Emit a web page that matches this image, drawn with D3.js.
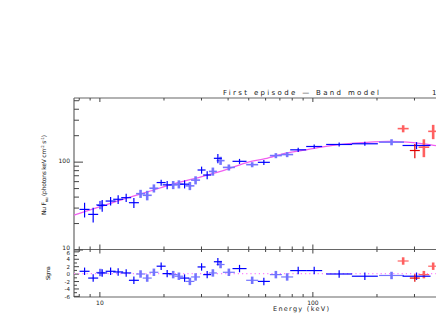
<!DOCTYPE html>
<html>
<head>
<meta charset="utf-8">
<title>First episode - Band model</title>
<script src="https://d3js.org/d3.v7.min.js"></script>
<style>
  body { margin: 0; background: #fff; }
  svg { display: block; font-family: "DejaVu Sans", sans-serif; }
</style>
</head>
<body>
<svg id="plot" width="436" height="327"></svg>
<script>
// spectral points: energy bin (keV), nuFnu, error, residual (sigma)
const energy = [8.52, 9.35, 10.1, 10.31, 11.29, 12.25, 13.36, 14.52, 15.61, 16.77, 18.03, 19.5, 20.81, 22.21, 23.62, 25.12, 26.6, 28.29, 30.19, 32.07, 34.11, 36.0, 37.07, 40.55, 45.5, 52.17, 59.19, 67.4, 76.14, 85.8, 102, 133.6, 176.4, 235.4, 308.4, 266.9, 302.8, 333.9, 369.2];
const eLo = [8.07, 8.86, 9.65, 9.77, 10.7, 11.61, 12.66, 13.76, 14.87, 15.97, 17.17, 18.57, 19.82, 21.15, 22.5, 23.93, 25.34, 26.95, 28.91, 30.71, 32.67, 34.48, 35.5, 38.0, 42.18, 48.89, 55.47, 63.17, 71.36, 78.69, 93.55, 116.1, 153.3, 205.7, 265.1, 251.5, 286.9, 315.2, 349.8];
const eHi = [8.99, 9.87, 10.6, 10.88, 11.92, 12.93, 14.1, 15.33, 16.39, 17.61, 18.93, 20.47, 21.85, 23.32, 24.8, 26.37, 27.93, 29.7, 31.52, 33.49, 35.62, 37.59, 38.71, 43.27, 49.08, 55.66, 63.16, 71.92, 81.24, 93.55, 111.2, 153.7, 203.0, 269.4, 358.8, 283.2, 319.6, 353.8, 389.7];
const flux = [28.6, 25.1, 32.2, 31.8, 35.6, 37.3, 38.9, 34.1, 43.2, 41.4, 49.8, 57.8, 54.4, 54.4, 55.4, 55.4, 53.0, 61.6, 80.3, 70.4, 77.4, 109.1, 102.7, 86.0, 100.8, 92.4, 98.2, 117.2, 120.4, 136.3, 148.7, 156.8, 159.7, 166.7, 152.7, 237.6, 133.8, 146.0, 221.2];
const fluxErr = [5.45, 4.85, 3.5, 4.88, 3.96, 4.25, 4.12, 4.51, 4.57, 5.15, 5.27, 4.59, 5.76, 5.76, 5.87, 5.87, 5.61, 6.52, 7.44, 7.45, 8.2, 13.0, 10.9, 6.83, 6.67, 6.11, 6.5, 7.76, 7.97, 7.2, 7.9, 8.3, 8.45, 13.2, 14.1, 22, 24.8, 33.6, 41];
const resid = [0.63, -1.2, 0.3, 0.18, 0.63, 0.45, 0.18, -1.8, -0.1, -1.2, 0.36, 2.0, 0, -0.27, -0.7, -1.2, -2.1, -0.9, 1.8, -0.27, 0.18, 3.2, 2.45, 0.36, 1.36, -1.8, -2.1, -0.27, -0.9, 0.82, 0.82, -0.1, -0.7, -0.5, -0.7, 3.4, -1.2, -0.27, 2.0];
// d = dark blue, l = light blue, dr = dark red, lr = light red
const detector = ['d','d','l','d','d','d','d','d','l','l','l','d','d','l','l','d','l','l','d','d','l','d','l','l','d','l','d','l','l','d','d','d','d','l','d','lr','dr','lr','lr'];

// Band model curve
const modelE = [7.6, 10, 13, 17, 22, 30, 40, 50, 60, 75, 90, 110, 140, 180, 230, 280, 330, 400, 450];
const modelF = [24.6, 30.5, 37.5, 45.5, 55.5, 67, 82, 99, 108, 125, 134, 146, 158, 166, 170, 167, 160, 150, 146];

// axis ticks
const energyMajor = [10, 100];
const energyMinor = [8, 9, 20, 30, 40, 50, 60, 70, 80, 90, 200, 300, 400];
const fluxMajor = [10, 100];
const fluxMinor = [20, 30, 40, 50, 60, 70, 80, 90, 200, 300, 400, 500];
const sigmaMajor = [-6, -4, -2, 0, 2, 4, 6];
const sigmaMinor = [-5, -3, -1, 1, 3, 5];

const colors = { d: '#0000ff', l: '#7474ff', dr: '#e00000', lr: '#ff6060' };
const widths = { d: 1.2, l: 2.6, dr: 1.2, lr: 2.6 };

const svg = d3.select('#plot');

const x = d3.scaleLog().domain([7.6, 440]).range([74, 449.4]);
const yTop = d3.scaleLog().domain([10, 530]).range([249.5, 98]);
const ySig = d3.scaleLinear().domain([-6.3, 6.5]).range([297, 249.5]);

// draws one set of ticks with d3.axis
function ticks(axisFn, scale, values, size, tx, ty, labelled) {
    const g = svg.append('g')
        .attr('transform', `translate(${tx},${ty})`)
        .call(axisFn(scale).tickValues(values).tickSizeInner(size).tickSizeOuter(0)
            .tickPadding(4).tickFormat(labelled ? (d => String(d)) : () => ''));
    g.select('.domain').remove();
    g.attr('font-size', 6).attr('font-family', null);
    g.selectAll('line').attr('stroke', '#444').attr('stroke-width', 1);
    g.selectAll('text').attr('fill', '#222');
    return g;
}

// frames
const frame = [
    [74, 98, 74, 297],
    [74, 98, 436, 98],
    [74, 249.5, 436, 249.5],
    [74, 297, 436, 297]
];
svg.selectAll('line.frame').data(frame).enter().append('line')
    .attr('class', 'frame')
    .attr('x1', d => d[0]).attr('y1', d => d[1])
    .attr('x2', d => d[2]).attr('y2', d => d[3])
    .attr('stroke', '#666').attr('stroke-width', 1.2);

// top panel ticks
ticks(d3.axisLeft, yTop, fluxMajor, -9, 74, 0, true)
    .selectAll('text').attr('dy', d => d === 10 ? '-0.05em' : '0.2em');
ticks(d3.axisLeft, yTop, fluxMinor, -5, 74, 0, false);
ticks(d3.axisTop, x, energyMajor, -4, 0, 98, false);
ticks(d3.axisTop, x, energyMinor, -2.5, 0, 98, false);
ticks(d3.axisBottom, x, energyMajor, -5, 0, 249.5, false);
ticks(d3.axisBottom, x, energyMinor, -3, 0, 249.5, false);

// residual panel ticks
ticks(d3.axisLeft, ySig, sigmaMajor, -5, 74, 0, true)
    .selectAll('text').attr('font-size', 5.5).attr('dy', d => d === 6 ? '0.5em' : '0.4em');
ticks(d3.axisLeft, ySig, sigmaMinor, -3, 74, 0, false);
ticks(d3.axisTop, x, energyMajor, -4, 0, 249.5, false);
ticks(d3.axisTop, x, energyMinor, -2.5, 0, 249.5, false);
ticks(d3.axisBottom, x, energyMajor, -5, 0, 297, true);
ticks(d3.axisBottom, x, energyMinor, -3, 0, 297, false);

// model curve
const model = modelE.map((e, i) => [e, modelF[i]]);
const modelLine = d3.line()
    .x(d => x(d[0]))
    .y(d => yTop(d[1]))
    .curve(d3.curveMonotoneX);
svg.append('path')
    .datum(model)
    .attr('fill', 'none')
    .attr('stroke', '#f060f0')
    .attr('stroke-width', 1.3)
    .attr('d', modelLine);

// zero line in residuals
svg.append('line')
    .attr('x1', 74).attr('x2', 436)
    .attr('y1', ySig(0)).attr('y2', ySig(0))
    .attr('stroke', '#ff80ff').attr('stroke-width', 1.2)
    .attr('stroke-dasharray', '1.2,3');

// data points, light sets first
const points = energy.map((e, i) => ({
    e: e, lo: eLo[i], hi: eHi[i], f: flux[i], err: fluxErr[i], r: resid[i], det: detector[i]
}));
const order = { l: 0, lr: 0, d: 1, dr: 1 };
points.sort((a, b) => order[a.det] - order[b.det]);

const pts = svg.append('g');
points.forEach(p => {
    const c = colors[p.det], w = widths[p.det];
    const light = p.det === 'l' || p.det === 'lr';
    pts.append('line')
        .attr('x1', x(p.lo)).attr('x2', x(p.hi))
        .attr('y1', yTop(p.f)).attr('y2', yTop(p.f))
        .attr('stroke', c).attr('stroke-width', light ? 1.6 : 1.2);
    pts.append('line')
        .attr('x1', x(p.e)).attr('x2', x(p.e))
        .attr('y1', yTop(Math.max(p.f - p.err, 10))).attr('y2', yTop(p.f + p.err))
        .attr('stroke', c).attr('stroke-width', w);
    // residual cross: error is 1 sigma by definition
    pts.append('line')
        .attr('x1', x(p.lo)).attr('x2', x(p.hi))
        .attr('y1', ySig(p.r)).attr('y2', ySig(p.r))
        .attr('stroke', c).attr('stroke-width', 1.2);
    pts.append('line')
        .attr('x1', x(p.e)).attr('x2', x(p.e))
        .attr('y1', ySig(p.r - 1)).attr('y2', ySig(p.r + 1))
        .attr('stroke', c).attr('stroke-width', w);
});

// texts
svg.append('text')
    .attr('x', 223).attr('y', 95)
    .attr('font-size', 7).attr('fill', '#222')
    .attr('textLength', 156).attr('lengthAdjust', 'spacing')
    .text('First episode \u2014 Band model');

svg.append('text')
    .attr('x', 432).attr('y', 95)
    .attr('font-size', 7).attr('fill', '#222')
    .text('1');

const yl = svg.append('text')
    .attr('transform', 'translate(46,175) rotate(-90)')
    .attr('text-anchor', 'middle')
    .attr('font-size', 6).attr('fill', '#222')
    .attr('textLength', 80).attr('lengthAdjust', 'spacing');
yl.append('tspan').text('Nu F');
yl.append('tspan').attr('font-size', 4).attr('dy', 1.5).text('nu');
yl.append('tspan').attr('dy', -1.5).text(' (photons keV cm');
yl.append('tspan').attr('font-size', 4).attr('dy', -2.5).text('-2');
yl.append('tspan').attr('dy', 2.5).text(' s');
yl.append('tspan').attr('font-size', 4).attr('dy', -2.5).text('-1');
yl.append('tspan').attr('dy', 2.5).text(')');

svg.append('text')
    .attr('transform', 'translate(50,273) rotate(-90)')
    .attr('text-anchor', 'middle')
    .attr('font-size', 5.5).attr('fill', '#222')
    .attr('textLength', 14).attr('lengthAdjust', 'spacing')
    .text('Sigma');

svg.append('text')
    .attr('x', 273).attr('y', 311)
    .attr('font-size', 6.5).attr('fill', '#222')
    .attr('textLength', 56).attr('lengthAdjust', 'spacing')
    .text('Energy (keV)');
</script>
</body>
</html>
